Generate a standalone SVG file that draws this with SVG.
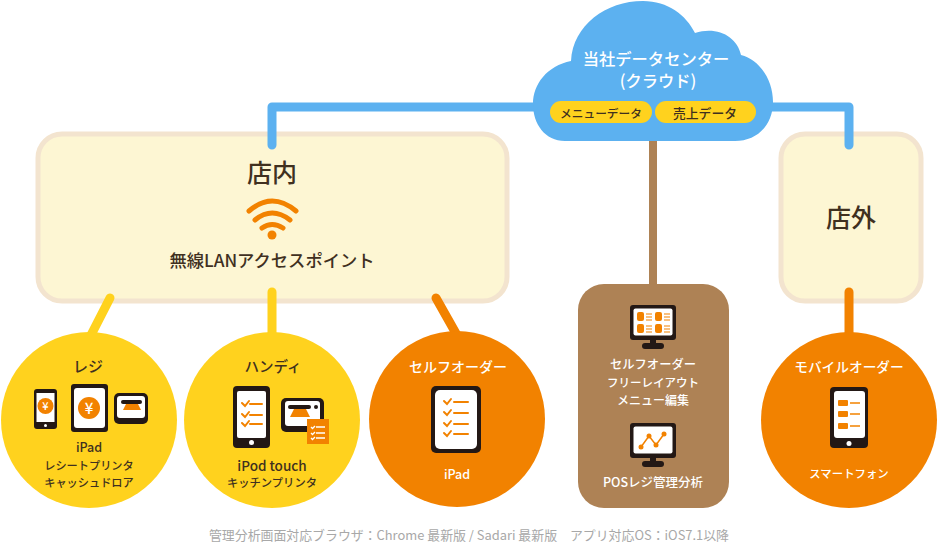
<svg xmlns="http://www.w3.org/2000/svg" width="938" height="542" viewBox="0 0 938 542">
<style>
text{font-family:"Noto Sans CJK JP","Liberation Sans",sans-serif;text-anchor:middle;font-weight:500}
.dk{fill:#40301f}.w{fill:#fff}
.panel{fill:#fdf6d3;stroke:#f3e4cf;stroke-width:5}
.y{fill:#ffd21e}.o{fill:#f28200}
.ln{fill:none;stroke-width:9;stroke-linecap:round;stroke-linejoin:round}
.blk{fill:#231815}.scr{fill:#fff}.ofill{fill:#f28200}
.ck{fill:none;stroke:#f28200;stroke-width:2;stroke-linecap:round}
.ckw{fill:none;stroke:#fff;stroke-width:1.3}
</style>
<g id="store">
<rect class="panel" x="38" y="134" width="469" height="167" rx="24"/>
<text class="dk" x="272" y="182" font-size="25">店内</text>
<g fill="none" stroke="#f28200" stroke-width="5" stroke-linecap="round">
<path d="M249 211Q272 191 296 211"/><path d="M255 220Q272 206 290 220"/><path d="M262 228Q272 221 283 228"/>
</g>
<circle class="ofill" cx="272" cy="235" r="4.500"/>
<text class="dk" x="272" y="267" font-size="17.300">無線LANアクセスポイント</text>
</g>
<g id="outside">
<rect class="panel" x="781" y="134" width="140" height="167" rx="24"/>
<text class="dk" x="851" y="227" font-size="25">店外</text>
</g>
<g id="connectors">
<path class="ln" stroke="#5cb1f0" d="M272 145V107H540"/>
<path class="ln" stroke="#5cb1f0" d="M765 107H849V145"/>
<path d="M653 135V290" fill="none" stroke="#ae8255" stroke-width="8"/>
<path class="ln" stroke="#ffd21e" d="M110 298L90 337"/>
<path class="ln" stroke="#ffd21e" d="M272 292V337"/>
<path class="ln" stroke="#f28200" d="M436 298L458 337"/>
<path class="ln" stroke="#f28200" d="M849 292V337"/>
</g>
<g id="cloud">
<path fill="#5cb1f0" d="M565 141C545 141 533 124 533 104C533 84 547 66 571 61C573 25 606 1 643 1C668 1 686 15 695 33C718 26 737 37 741 55C760 60 773 80 773 102C773 125 757 141 735 141Z"/>
<text class="w" x="656" y="65" font-size="16.300">当社データセンター</text>
<text class="w" x="658" y="87" font-size="16.300">(クラウド)</text>
<rect class="y" x="550" y="101" width="102" height="22" rx="11"/>
<rect class="y" x="655" y="101" width="101" height="22" rx="11"/>
<text class="dk" x="601" y="117.500" font-size="11.700">メニューデータ</text>
<text class="dk" x="705" y="117.500" font-size="12.800">売上データ</text>
</g>
<g id="regi">
<circle class="y" cx="89" cy="420" r="88"/>
<text class="dk" x="88" y="372" font-size="15">レジ</text>
<rect class="blk" x="34" y="389" width="23" height="40" rx="3"/><rect class="scr" x="36.500" y="393" width="18" height="29"/><circle class="scr" cx="45.500" cy="425.500" r="1.500"/>
<circle class="ofill" cx="45.500" cy="406" r="8"/><text class="w" x="45.500" y="410" font-size="11">¥</text>
<rect class="blk" x="71" y="384" width="37" height="48" rx="3"/><rect class="scr" x="74" y="388" width="31" height="40" rx="3"/>
<circle class="ofill" cx="89" cy="408" r="11"/><text class="w" x="89" y="413.500" font-size="15">¥</text>
<rect class="blk" x="114" y="393" width="34" height="31" rx="5"/><rect class="scr" x="117" y="396" width="28" height="22" rx="3"/>
<rect class="blk" x="121" y="400" width="21" height="4" rx="2"/><path class="ofill" d="M126 404H138L141 410H123Z"/>
<text class="dk" x="89" y="452" font-size="12.500">iPad</text>
<text class="dk" x="89" y="469.500" font-size="11.200">レシートプリンタ</text>
<text class="dk" x="89" y="487" font-size="11.200">キャッシュドロア</text>
</g>
<g id="handy">
<circle class="y" cx="272" cy="420" r="88"/>
<text class="dk" x="273" y="372" font-size="14.500">ハンディ</text>
<rect class="blk" x="233" y="386" width="37" height="62" rx="4"/><rect class="scr" x="237" y="391" width="29" height="47" rx="2"/><circle class="scr" cx="251.500" cy="442.500" r="2.500"/>
<path class="ck" d="M242 403L245 406L249 401M250 404H262M242 414L245 417L249 412M250 415H262M242 423L245 426L249 421M250 424H262"/>
<rect class="blk" x="281" y="398" width="43" height="34" rx="5"/><rect class="scr" x="285" y="401" width="35" height="25" rx="3"/>
<rect class="blk" x="288" y="405" width="23" height="4" rx="2"/><circle class="blk" cx="316" cy="407" r="2"/><path class="ofill" d="M294 409H306L310 417H290Z"/>
<rect class="ofill" x="307" y="419" width="22" height="25"/>
<path class="ckw" d="M311 427L312.500 428.500L315 426M316 427H325M311 433L312.500 434.500L315 432M316 433H325M311 438L312.500 439.500L315 437M316 438H325"/>
<text class="dk" x="272" y="471" font-size="13.500">iPod touch</text>
<text class="dk" x="272" y="487" font-size="11.300">キッチンプリンタ</text>
</g>
<g id="selforder">
<circle class="o" cx="457" cy="419" r="88"/>
<text class="w" x="458" y="372" font-size="14">セルフオーダー</text>
<rect class="blk" x="431" y="386" width="50" height="67" rx="5"/><rect class="scr" x="435" y="390" width="42" height="59" rx="5"/>
<path class="ck" d="M444 401L447 404L451 399M454 402H468M444 412L447 415L451 410M454 413H468M444 423L447 426L451 421M454 424H468M444 433L447 436L451 431M454 434H468"/>
<text class="w" x="457" y="479" font-size="12.500">iPad</text>
</g>
<g id="admin">
<rect x="578" y="284" width="151" height="224" rx="26" fill="#ae8255"/>
<rect class="blk" x="630" y="305" width="46" height="35" rx="3"/><rect class="scr" x="633.500" y="308.500" width="39" height="27" rx="2"/>
<rect class="blk" x="650" y="340" width="6" height="4"/><rect class="blk" x="642" y="343" width="22" height="6" rx="3"/>
<g class="ofill"><rect x="637" y="312" width="7" height="9" rx="2"/><rect x="637" y="324" width="7" height="9" rx="2"/><rect x="655" y="312" width="7" height="9" rx="2"/><rect x="655" y="324" width="7" height="9" rx="2"/></g>
<path d="M646 314H652M646 317H652M646 320H652M646 326H652M646 329H652M646 332H652M664 314H670M664 317H670M664 320H670M664 326H670M664 329H670M664 332H670" stroke="#f28200" stroke-width="1.200"/>
<text class="w" x="653" y="369" font-size="12.300">セルフオーダー</text>
<text class="w" x="653" y="387" font-size="11.500">フリーレイアウト</text>
<text class="w" x="653" y="405" font-size="12">メニュー編集</text>
<rect class="blk" x="630" y="423" width="46" height="35" rx="3"/><rect class="scr" x="633.500" y="426.500" width="39" height="27" rx="2"/>
<rect class="blk" x="650" y="458" width="6" height="4"/><rect class="blk" x="642" y="461" width="22" height="6" rx="3"/>
<path d="M641 447L649 436L656 445L664 434" fill="none" stroke="#f28200" stroke-width="1.500"/>
<g class="ofill"><circle cx="641" cy="447" r="2.500"/><circle cx="649" cy="436" r="2.500"/><circle cx="656" cy="445" r="2.500"/><circle cx="664" cy="434" r="2.500"/></g>
<text class="w" x="653" y="487" font-size="12.500">POSレジ管理分析</text>
</g>
<g id="mobile">
<circle class="o" cx="849" cy="420" r="88"/>
<text class="w" x="849" y="372" font-size="13.700">モバイルオーダー</text>
<rect class="blk" x="830" y="387" width="38" height="61" rx="4"/><rect class="scr" x="834" y="391" width="31" height="47" rx="3"/><circle class="scr" cx="849" cy="443.500" r="2.500"/>
<g class="ofill"><rect x="838" y="400" width="10" height="6" rx="1"/><rect x="838" y="411" width="10" height="6" rx="1"/><rect x="838" y="423" width="10" height="6" rx="1"/></g>
<path d="M850 403H860M850 414H860M850 426H860" stroke="#f28200" stroke-width="1.600"/>
<text class="w" x="849" y="478" font-size="11.400">スマートフォン</text>
</g>
<g id="note">
<text x="469" y="539.500" font-size="12.900" fill="#a8a8a8" style="font-weight:400">管理分析画面対応ブラウザ：Chrome 最新版 / Sadari 最新版　アプリ対応OS：iOS7.1以降</text>
</g>
</svg>
